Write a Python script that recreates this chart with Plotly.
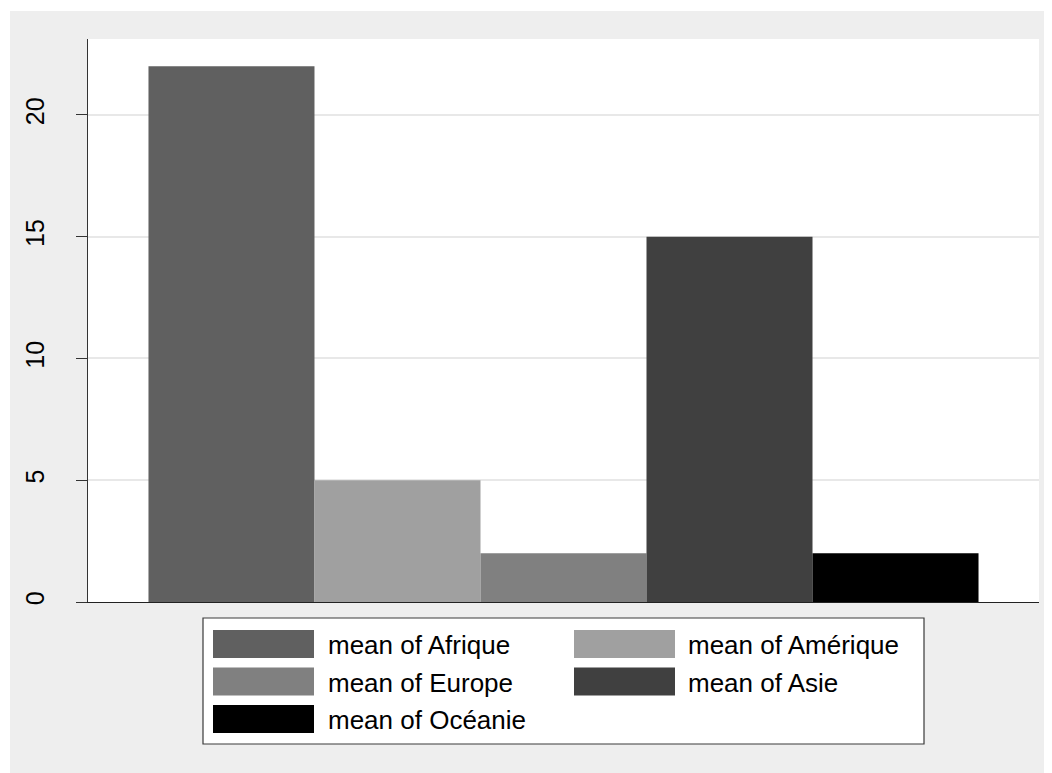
import plotly.graph_objects as go

# ---- data ----
series = ["mean of Afrique", "mean of Amérique", "mean of Europe", "mean of Asie", "mean of Océanie"]
values = [22, 5, 2, 15, 2]
y_ticks = [0, 5, 10, 15, 20]
colors = ["#606060", "#A0A0A0", "#808080", "#404040", "#000000"]

OFF = 8  # page body margin
W, H = 1070, 790
L, T = 88 - OFF, 39 - OFF
R = W - (1039 - OFF)
B = H - (602 - OFF)
PW, PH = W - L - R, H - T - B


def px(x):
    return (x - OFF - L) / PW


def py(y):
    return (T + PH - (y - OFF)) / PH


fig = go.Figure()
for name, v, c in zip(series, values, colors):
    fig.add_trace(go.Bar(x=[""], y=[v], name=name, marker=dict(color=c, line=dict(width=0)),
                         showlegend=False))

shapes = []
annotations = []
# white margin strips (top / left) around the grey graph region
shapes.append(dict(type="rect", xref="paper", yref="paper", x0=-1, x1=2, y0=py(11), y1=2,
                   fillcolor="white", line=dict(width=0), layer="above"))
shapes.append(dict(type="rect", xref="paper", yref="paper", x0=-1, x1=px(10), y0=-1, y1=2,
                   fillcolor="white", line=dict(width=0), layer="above"))

# custom legend
shapes.append(dict(type="rect", xref="paper", yref="paper", x0=px(203), x1=px(924),
                   y0=py(744), y1=py(618), fillcolor="white",
                   line=dict(color="#3a3a3a", width=1.2), layer="above"))
col_sw = [213, 574]
col_tx = [329, 689]
row_c = [644, 681.5, 719]
for i, (name, c) in enumerate(zip(series, colors)):
    col, row = i % 2, i // 2
    yc = row_c[row]
    shapes.append(dict(type="rect", xref="paper", yref="paper",
                       x0=px(col_sw[col]), x1=px(col_sw[col] + 101),
                       y0=py(yc + 14), y1=py(yc - 14), fillcolor=c,
                       line=dict(width=0), layer="above"))
    annotations.append(dict(xref="paper", yref="paper", x=px(col_tx[col] - 3), y=py(yc + 1),
                            text=name, showarrow=False, xanchor="left", yanchor="middle",
                            font=dict(family="Liberation Sans, Arial, sans-serif", size=26,
                                      color="#000000")))

fig.update_layout(
    width=W, height=H,
    margin=dict(l=L, r=R, t=T, b=B, pad=0),
    paper_bgcolor="#EEEEEE",
    plot_bgcolor="white",
    barmode="group",
    bargap=0.1272,
    bargroupgap=0,
    shapes=shapes,
    annotations=annotations,
    font=dict(family="Liberation Sans, Arial, sans-serif", color="#000000"),
)
fig.update_xaxes(showticklabels=False, ticks="", showgrid=False, zeroline=False,
                 showline=True, linecolor="#222222", linewidth=1.3, mirror=False)
fig.update_yaxes(range=[0, 23.12], tickvals=y_ticks, ticktext=[str(t) for t in y_ticks],
                 tickangle=-90, ticks="outside", ticklen=11, tickwidth=1.2, tickcolor="#333333",
                 tickfont=dict(size=25, color="#000000"), ticklabelstandoff=22,
                 showline=True, linecolor="#333333", linewidth=1.2,
                 showgrid=True, gridcolor="#E8E8E8", gridwidth=2, zeroline=False)

fig.write_html("out.html", config={"displayModeBar": False})
